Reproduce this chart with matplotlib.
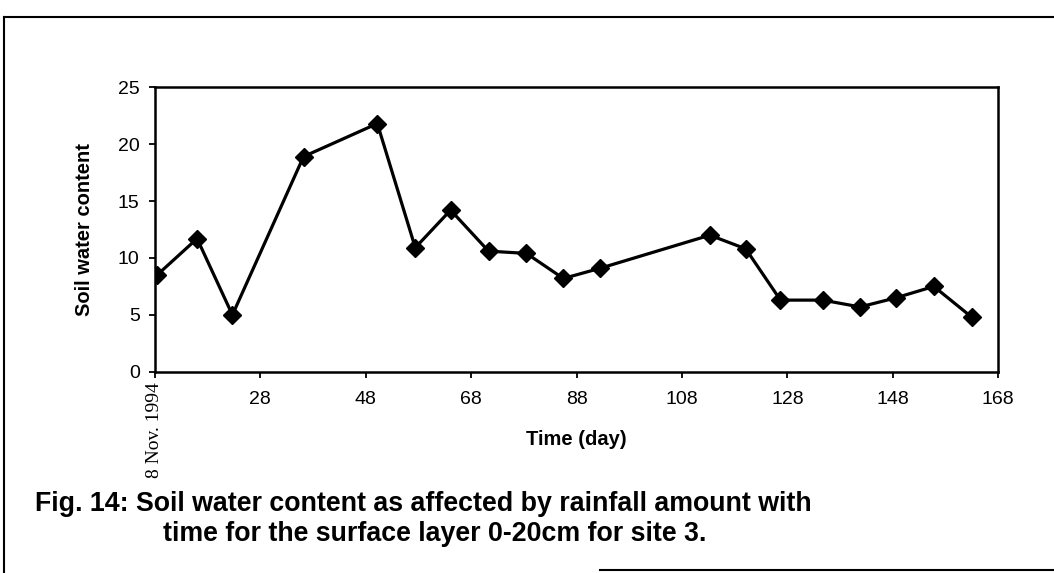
import matplotlib
matplotlib.use("Agg")
import matplotlib.pyplot as plt
from matplotlib.lines import Line2D

# Readings taken off the figure (day count from 8 Nov. 1994 axis origin)
days = [8.4, 16.0, 22.7, 36.2, 50.2, 57.4, 64.1, 71.3, 78.5, 85.5, 92.5,
        113.3, 120.1, 126.7, 134.7, 141.8, 148.6, 155.8, 163.0]
water = [8.5, 11.7, 5.0, 18.9, 21.8, 10.9, 14.2, 10.6, 10.4, 8.2, 9.1,
         12.0, 10.8, 6.3, 6.3, 5.7, 6.5, 7.5, 4.8]

x_ticks = [8, 28, 48, 68, 88, 108, 128, 148, 168]
x_tick_labels = ["", "28", "48", "68", "88", "108", "128", "148", "168"]
y_ticks = [0, 5, 10, 15, 20, 25]

plt.rcParams['font.family'] = ['Liberation Sans', 'DejaVu Sans']

fig = plt.figure(figsize=(10.54, 5.73), dpi=100)
ax = fig.add_axes([0.147, 0.351, 0.800, 0.497])

ax.plot(days, water, color='black', lw=2.3, marker='D', ms=9.5,
        markerfacecolor='black', markeredgecolor='black')

ax.set_xlim(8, 168)
ax.set_ylim(0, 25)
ax.set_xticks(x_ticks)
ax.set_xticklabels(x_tick_labels)
ax.set_yticks(y_ticks)
ax.tick_params(direction='out', length=4, width=1.3, labelsize=14)
ax.tick_params(axis='x', pad=10)
ax.tick_params(axis='y', pad=7)
for s in ax.spines.values():
    s.set_linewidth(1.8)

ax.set_ylabel("Soil water content", fontsize=14.5, fontweight='bold', va='center')
ax.yaxis.set_label_coords(-0.083, 0.5)
ax.set_xlabel("Time (day)", fontsize=14.5, fontweight='bold', va='center')
ax.xaxis.set_label_coords(0.5, -0.237)

# first tick carries the start date, written vertically
ax.text(8, -0.035, "8 Nov. 1994", transform=ax.get_xaxis_transform(),
        rotation=90, ha='center', va='top', fontsize=14, family='Liberation Serif')

fig.text(0.033, 0.108, "Fig. 14: Soil water content as affected by rainfall amount with",
         fontsize=19.3, fontweight='bold', va='baseline')
fig.text(0.155, 0.055, "time for the surface layer 0-20cm for site 3.",
         fontsize=19.3, fontweight='bold', va='baseline')

# page frame from the scanned report
for xs, ys in [([0.004, 0.004], [0.970, 0.0]),
               ([0.004, 1.0], [0.970, 0.970]),
               ([0.569, 1.0], [0.006, 0.006])]:
    fig.add_artist(Line2D(xs, ys, color='black', lw=1.5, transform=fig.transFigure))

fig.savefig("out.png", dpi=100)
